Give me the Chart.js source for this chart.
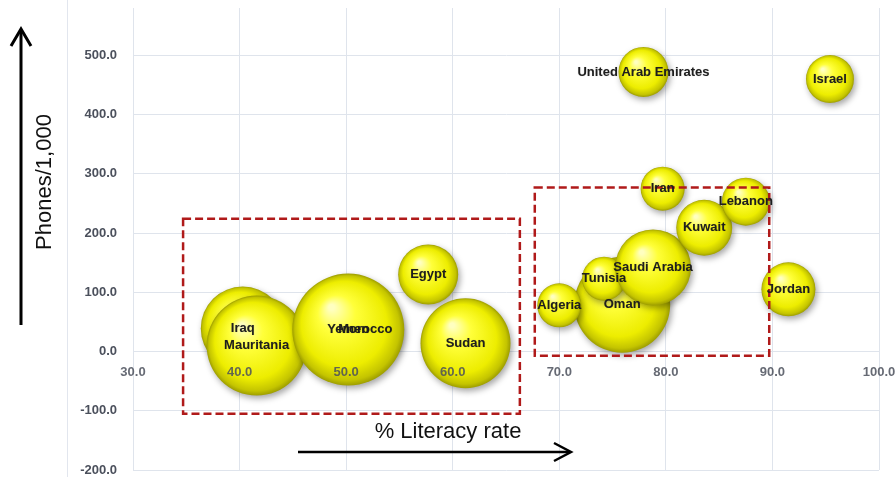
<!DOCTYPE html>
<html>
<head>
<meta charset="utf-8">
<script src="https://cdn.jsdelivr.net/npm/chart.js@4.4.1/dist/chart.umd.min.js"></script>
<style>
  html, body { margin: 0; padding: 0; background: #fff; }
  #wrap { width: 896px; height: 477px; position: relative; }
</style>
</head>
<body>
<div id="wrap"><canvas id="literacy"></canvas></div>
<script>

/* Data  */

var countries = ['Iraq', 'Mauritania', 'Morocco', 'Yemen', 'Egypt', 'Sudan',
  'Oman', 'Algeria', 'Tunisia', 'Saudi Arabia', 'Kuwait', 'Iran', 'Lebanon',
  'Jordan', 'United Arab Emirates', 'Israel'];
var literacy = [40.3, 41.6, 51.8, 50.2, 57.7, 61.2, 75.9, 70.0, 74.2, 78.8, 83.6, 79.7, 87.5, 91.5, 77.9, 95.4];
var phones   = [39, 10, 37, 37, 130, 14, 79, 78, 123, 142, 209, 275, 253, 105, 472, 460];
var bubbleSize = [42, 50, 36, 56, 30, 45, 48, 22, 22, 38, 28, 22, 24, 27, 25, 24];

var yTicks = [-200, -100, 0, 100, 200, 300, 400, 500];

// dashed group boxes, in axis units [xmin, xmax, ymin, ymax]
var groupBoxes = [
  [34.7, 66.3, -105, 224],
  [67.7, 89.7, -7, 277]
];

var points = [];
for (var i = 0; i < countries.length; i++) {
  points.push({ x: literacy[i], y: phones[i], r: bubbleSize[i] });
}


/* Bubble fill - yellow sphere  */

function sphereFill(c) {
  var chart = c.chart;
  var p = c.raw;
  if (!p || !chart.chartArea) return '#eeee10';
  var x = chart.scales.x.getPixelForValue(p.x);
  var y = chart.scales.y.getPixelForValue(p.y);
  var r = p.r;
  var g = chart.ctx.createRadialGradient(x - r * 0.3, y - r * 0.4, r * 0.05, x, y, r);
  g.addColorStop(0, '#ffffc0');
  g.addColorStop(0.3, '#ffff3a');
  g.addColorStop(0.75, '#eded00');
  g.addColorStop(0.93, '#c4c400');
  g.addColorStop(1, '#9d9d00');
  return g;
}

function noPad(scale) {
  scale.paddingTop = 0;
  scale.paddingBottom = 0;
  scale.paddingLeft = 0;
  scale.paddingRight = 0;
}


/* Extras: shadow, boxes, labels, arrows  */

var extras = {
  id: 'extras',
  beforeDatasetsDraw: function (chart) {
    var ctx = chart.ctx;
    ctx.save();
    ctx.shadowColor = 'rgba(0,0,0,0.35)';
    ctx.shadowBlur = 6;
    ctx.shadowOffsetX = 2;
    ctx.shadowOffsetY = 3;
  },
  afterDatasetsDraw: function (chart) {
    var ctx = chart.ctx;
    ctx.restore();
    var xs = chart.scales.x, ys = chart.scales.y;

    // dashed boxes
    ctx.save();
    ctx.strokeStyle = '#b01a1a';
    ctx.lineWidth = 2.5;
    ctx.setLineDash([8, 4]);
    groupBoxes.forEach(function (b) {
      var x1 = xs.getPixelForValue(b[0]), x2 = xs.getPixelForValue(b[1]);
      var y1 = ys.getPixelForValue(b[3]), y2 = ys.getPixelForValue(b[2]);
      ctx.strokeRect(x1, y1, x2 - x1, y2 - y1);
    });
    ctx.restore();

    // country labels
    var meta = chart.getDatasetMeta(0);
    ctx.save();
    ctx.font = 'bold 13px "Liberation Sans", Arial, sans-serif';
    ctx.textAlign = 'center';
    ctx.textBaseline = 'middle';
    ctx.fillStyle = '#1e1e1e';
    ctx.shadowColor = 'rgba(0,0,0,0.25)';
    ctx.shadowBlur = 1;
    meta.data.forEach(function (el, i) {
      ctx.fillText(countries[i], el.x, el.y);
    });
    ctx.restore();
  },
  afterDraw: function (chart) {
    var ctx = chart.ctx;
    ctx.save();

    // outer frame line on the left
    ctx.strokeStyle = '#e2e6ee';
    ctx.lineWidth = 1;
    ctx.beginPath();
    ctx.moveTo(67.5, 0);
    ctx.lineTo(67.5, 477);
    ctx.stroke();

    // arrows
    ctx.strokeStyle = '#000';
    ctx.lineWidth = 3;
    ctx.lineCap = 'butt';
    ctx.beginPath();
    ctx.moveTo(21, 325);
    ctx.lineTo(21, 30);
    ctx.stroke();
    ctx.beginPath();
    ctx.moveTo(11, 46);
    ctx.lineTo(21, 29);
    ctx.lineTo(31, 46);
    ctx.stroke();

    ctx.lineWidth = 2.5;
    ctx.beginPath();
    ctx.moveTo(298, 452);
    ctx.lineTo(570, 452);
    ctx.stroke();
    ctx.beginPath();
    ctx.moveTo(554, 443);
    ctx.lineTo(571, 452);
    ctx.lineTo(554, 461);
    ctx.stroke();

    // axis titles
    ctx.fillStyle = '#111';
    ctx.font = '22px "Liberation Sans", Arial, sans-serif';
    ctx.textAlign = 'center';
    ctx.textBaseline = 'middle';
    ctx.fillText('% Literacy rate', 448, 432);

    ctx.translate(45, 182);
    ctx.rotate(-Math.PI / 2);
    ctx.fillText('Phones/1,000', 0, 0);
    ctx.restore();
  }
};


/* Chart  */

var ctx = document.getElementById('literacy');
var literacychart = new Chart(ctx, {
  type: 'bubble',
  data: {
    labels: countries,
    datasets: [{
      data: points,
      backgroundColor: sphereFill,
      borderWidth: 0,
      hoverBorderWidth: 0
    }]
  },
  options: {
    responsive: true,
    maintainAspectRatio: false,
    animation: false,
    layout: { autoPadding: false, padding: { top: 8, right: 17, bottom: 7, left: 0 } },
    plugins: {
      legend: { display: false },
      tooltip: { enabled: false }
    },
    scales: {
      x: {
        axis: 'x',
        type: 'linear',
        position: { y: 0 },
        min: 30,
        max: 100,
        afterFit: noPad,
        grid: { color: '#dfe4ec', drawTicks: false },
        border: { color: '#dfe4ec' },
        ticks: {
          stepSize: 10,
          autoSkip: false,
          maxRotation: 0,
          padding: 13,
          z: 1,
          color: 'rgba(75,80,92,0.85)',
          font: { family: '"Liberation Sans", Arial, sans-serif', size: 13, weight: 'bold' },
          callback: function (v) { return Number(v).toFixed(1); }
        }
      },
      y: {
        type: 'linear',
        position: 'left',
        min: -200,
        max: 580,
        afterBuildTicks: function (scale) {
          scale.ticks = yTicks.map(function (v) { return { value: v }; });
        },
        afterFit: function (scale) { noPad(scale); scale.width = 133; },
        grid: { color: '#dfe4ec', drawTicks: false },
        border: { color: '#dfe4ec' },
        ticks: {
          padding: 16,
          color: '#4b505c',
          font: { family: '"Liberation Sans", Arial, sans-serif', size: 13, weight: 'bold' },
          callback: function (v) { return Number(v).toFixed(1); }
        }
      }
    }
  },
  plugins: [extras]
});

</script>
</body>
</html>
